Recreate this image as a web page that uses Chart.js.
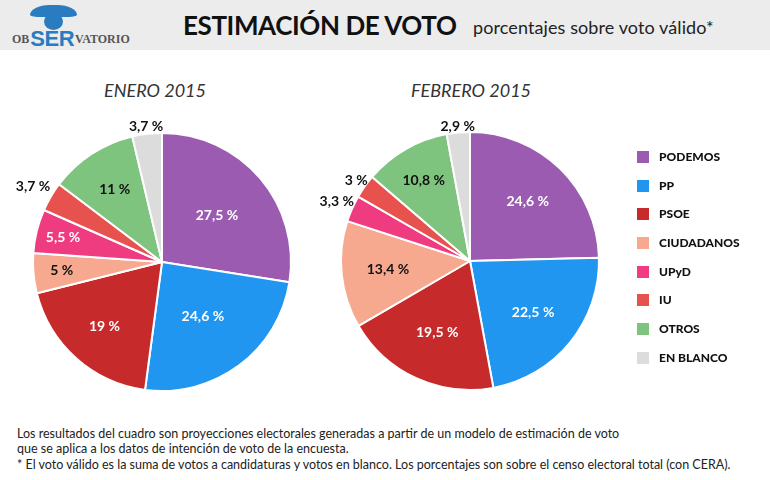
<!DOCTYPE html>
<html lang="es">
<head>
<meta charset="utf-8">
<title>Estimación de voto</title>
<script src="https://cdn.jsdelivr.net/npm/chart.js"></script>
<style>
body { margin:0; width:770px; height:480px; background:#fff; font-family: Lato, sans-serif; position:relative; overflow:hidden; }
#cabecera { position:absolute; left:0; top:0; width:770px; height:50px; background:#ececec; }
#icono1 { position:absolute; left:30px; top:5px; width:47px; height:12px; background:#2a7cc0; border-radius:50% 50% 30% 30% / 100% 100% 20% 20%; }
#icono2 { position:absolute; left:44px; top:13px; width:19px; height:17px; background:#2a7cc0; border-radius:50%; }
#logo { position:absolute; left:12px; top:28px; height:22px; line-height:22px; font-family:"Liberation Serif", serif; font-weight:bold; color:#555; font-size:12px; white-space:nowrap; }
#logo span { color:#2a7cc0; font-family:"Liberation Sans", sans-serif; font-size:22px; vertical-align:bottom; letter-spacing:-0.5px; margin:0 1px; }
#titulo { position:absolute; left:183px; top:9px; font-size:26px; font-weight:bold; color:#111; white-space:nowrap; letter-spacing:-0.4px; }
#subtitulo { position:absolute; left:473px; top:16px; font-size:18px; color:#222; white-space:nowrap; letter-spacing:0.1px; }
.mes { position:absolute; top:79px; width:200px; text-align:center; font-style:italic; font-size:18px; color:#333; }
canvas { position:absolute; }
#leyenda { position:absolute; left:637px; top:150px; }
.item { position:relative; height:28.7px; font-size:12px; font-weight:bold; color:#111; white-space:nowrap; }
.item i { position:absolute; left:0; top:1px; width:12px; height:12px; }
.item b { position:absolute; left:22px; top:0; line-height:14px; }
#nota { position:absolute; left:17px; top:426px; font-size:12.5px; line-height:15.3px; color:#222; white-space:nowrap; }
</style>
</head>
<body>
<div id="cabecera">
  <div id="icono1"></div><div id="icono2"></div>
  <div id="logo">OB<span>SER</span>VATORIO</div>
  <div id="titulo">ESTIMACIÓN DE VOTO</div>
  <div id="subtitulo">porcentajes sobre voto válido*</div>
</div>
<div class="mes" style="left:55px">ENERO 2015</div>
<div class="mes" style="left:371px">FEBRERO 2015</div>
<canvas id="enero" width="320" height="320" style="left:2px; top:102px"></canvas>
<canvas id="febrero" width="320" height="320" style="left:310px; top:101px"></canvas>
<div id="leyenda"></div>
<div id="nota">Los resultados del cuadro son proyecciones electorales generadas a partir de un modelo de estimación de voto<br>que se aplica a los datos de intención de voto de la encuesta.<br>* El voto válido es la suma de votos a candidaturas y votos en blanco. Los porcentajes son sobre el censo electoral total (con CERA).</div>
<script>
var partidos = ['PODEMOS', 'PP', 'PSOE', 'CIUDADANOS', 'UPyD', 'IU', 'OTROS', 'EN BLANCO'];
var enero2015 = [27.5, 24.6, 19, 5, 5.5, 3.7, 11, 3.7];
var febrero2015 = [24.6, 22.5, 19.5, 13.4, 3.3, 3, 10.8, 2.9];

var colores = ['#9b5bb0', '#2196f0', '#c62a2a', '#f7a98f', '#ef3b80', '#e8524e', '#7ec47f', '#dcdcdc'];
var colorTexto = ['#fff', '#fff', '#fff', '#111', '#fff', '#111', '#111', '#111'];

// leyenda comun
var ley = document.getElementById('leyenda');
partidos.forEach(function (p, i) {
  var d = document.createElement('div');
  d.className = 'item';
  d.innerHTML = '<i style="background:' + colores[i] + '"></i><b>' + p + '</b>';
  ley.appendChild(d);
});

// etiquetas de porcentaje sobre cada porcion
var etiquetas = {
  id: 'etiquetas',
  afterDatasetsDraw: function (chart, args, opts) {
    var ctx = chart.ctx;
    var meta = chart.getDatasetMeta(0);
    var vals = chart.data.datasets[0].data;
    ctx.save();
    ctx.font = 'bold 14px Lato';
    ctx.textAlign = 'center';
    ctx.textBaseline = 'middle';
    meta.data.forEach(function (arc, i) {
      var p = arc.getProps(['x', 'y', 'startAngle', 'endAngle', 'outerRadius'], true);
      var mid = (p.startAngle + p.endAngle) / 2;
      var r = p.outerRadius * opts.radios[i];
      var fuera = opts.radios[i] > 1;
      ctx.fillStyle = fuera ? '#111' : colorTexto[i];
      ctx.fillText(String(vals[i]).replace('.', ',') + ' %', p.x + Math.cos(mid) * r, p.y + Math.sin(mid) * r);
    });
    ctx.restore();
  }
};

function tarta(id, valores, radios) {
  return new Chart(id, {
    type: 'pie',
    data: {
      labels: partidos,
      datasets: [{
        data: valores,
        backgroundColor: colores,
        borderColor: '#fff',
        borderWidth: 2,
        radius: 129
      }]
    },
    options: {
      responsive: false,
      animation: false,
      layout: { padding: 0 },
      plugins: {
        legend: { display: false },
        tooltip: { enabled: false },
        etiquetas: { radios: radios }
      }
    },
    plugins: [etiquetas]
  });
}

tarta('enero', enero2015, [0.56, 0.53, 0.67, 0.78, 0.79, 1.16, 0.67, 1.06]);
tarta('febrero', febrero2015, [0.64, 0.63, 0.61, 0.64, 1.13, 1.08, 0.72, 1.05]);
</script>
</body>
</html>
